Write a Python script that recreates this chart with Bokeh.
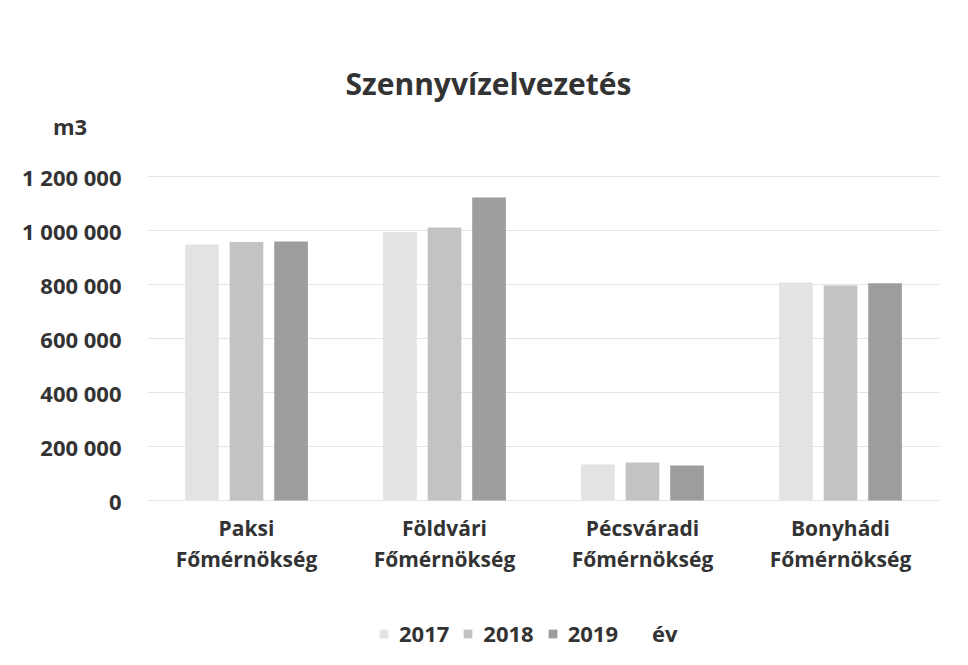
from bokeh.plotting import figure
from bokeh.models import ColumnDataSource, FixedTicker, Legend, LegendItem
from bokeh.core.properties import value
from bokeh.transform import dodge
from bokeh.embed import file_html
from bokeh.resources import INLINE

categories = ["Paksi\nFőmérnökség", "Földvári\nFőmérnökség", "Pécsváradi\nFőmérnökség", "Bonyhádi\nFőmérnökség"]
years = ["2017", "2018", "2019"]
v2017 = [948000, 994000, 133000, 807000]
v2018 = [957000, 1011000, 141000, 796000]
v2019 = [959000, 1122000, 130000, 805000]
y_ticks = [0, 200000, 400000, 600000, 800000, 1000000, 1200000]
y_tick_labels = ["0", "200 000", "400 000", "600 000", "800 000", "1 000 000", "1 200 000"]
chart_title = "Szennyvízelvezetés"
unit_label = "m3"
series_title = "év"
colors = ["#e3e3e3", "#c3c3c3", "#9d9d9d"]
FONT = "Open Sans"
TXT = "#333333"

# layout geometry (pixels)
W, H = 950, 650
LEFT, RIGHT = 147, 11
ZERO_PX = 500            # canvas y of value 0
PX_PER_UNIT = 270 / 1e6  # pixels per m3


def y_at(px):
    """data value drawn at canvas row px"""
    return (ZERO_PX - px) / PX_PER_UNIT


n = len(categories)
xc = [i + 0.5 for i in range(n)]
source = ColumnDataSource(dict(x=xc, cat=categories, y2017=v2017, y2018=v2018, y2019=v2019))

p = figure(x_range=(0, n), y_range=(y_at(H), y_at(0)),
           width=W, height=H, output_backend="svg", toolbar_location=None,
           min_border_left=LEFT, min_border_right=RIGHT, min_border_top=0, min_border_bottom=0)
p.outline_line_color = None
p.xaxis.visible = False
p.xgrid.grid_line_color = None

offsets = [-0.225, 0.0, 0.225]
items = []
for yr, col, off in zip(years, colors, offsets):
    r = p.vbar(x=dodge("x", off), top="y" + yr, width=0.17,
               source=source, fill_color=col, line_color=None)
    items.append(LegendItem(label=yr, renderers=[r]))
items.append(LegendItem(label=series_title, renderers=[]))

# y axis: value ticks plus the unit caption at the top
unit_y = y_at(125)
ax = p.yaxis[0]
ax.ticker = FixedTicker(ticks=y_ticks + [unit_y])
overrides = {t: l for t, l in zip(y_ticks, y_tick_labels)}
overrides[unit_y] = unit_label + "\u00a0" * 6
ax.major_label_overrides = overrides
ax.axis_line_color = None
ax.major_tick_line_color = None
ax.minor_tick_line_color = None
ax.major_label_text_font = FONT
ax.major_label_text_font_style = "bold"
ax.major_label_text_font_size = "22px"
ax.major_label_text_color = TXT
ax.major_label_standoff = 20
p.ygrid.ticker = FixedTicker(ticks=y_ticks)
p.ygrid.grid_line_color = "#e4e4e4"
p.ygrid.grid_line_width = 1

# category labels under the bars
p.text(x="x", y=y_at(513), text="cat", source=source, text_align="center",
       text_baseline="top", text_font=value(FONT), text_font_style="bold",
       text_font_size="21px", text_color=TXT, text_line_height=1.12)

# chart title
p.text(x=[(488 - LEFT) / ((W - LEFT - RIGHT) / n)], y=[y_at(83)], text=[chart_title],
       text_align="center", text_baseline="middle", text_font=value(FONT),
       text_font_style="bold", text_font_size="30px", text_color=TXT)

legend = Legend(items=items, orientation="horizontal", location=(231, 2),
                glyph_width=11, glyph_height=11, label_standoff=10, spacing=13,
                padding=0, margin=0, border_line_color=None, background_fill_alpha=0,
                label_text_font=FONT, label_text_font_style="bold",
                label_text_font_size="22px", label_text_color=TXT)
p.add_layout(legend, "center")

open("out.html", "w").write(file_html(p, INLINE))
